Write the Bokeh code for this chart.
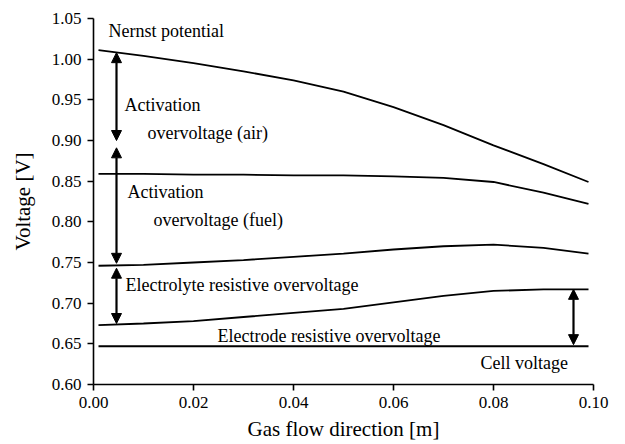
from bokeh.plotting import figure
from bokeh.models import ColumnDataSource, Arrow, NormalHead, Range1d, NumeralTickFormatter
from bokeh.core.properties import value
from bokeh.embed import file_html
from bokeh.resources import INLINE

# data
x_pos = [0.001, 0.01, 0.02, 0.03, 0.04, 0.05, 0.06, 0.07, 0.08, 0.09, 0.099]
nernst = [1.011, 1.004, 0.995, 0.985, 0.974, 0.960, 0.941, 0.919, 0.894, 0.871, 0.849]
after_air = [0.859, 0.859, 0.858, 0.858, 0.857, 0.857, 0.856, 0.854, 0.849, 0.836, 0.822]
after_fuel = [0.746, 0.747, 0.750, 0.753, 0.757, 0.761, 0.766, 0.770, 0.772, 0.768, 0.761]
after_electrolyte = [0.673, 0.675, 0.678, 0.683, 0.688, 0.693, 0.701, 0.709, 0.715, 0.717, 0.717]
cell_voltage = [0.647] * len(x_pos)

# double-headed arrows: x, top, bottom
arrow_x = [0.0046, 0.0046, 0.0046, 0.096]
arrow_top = [1.008, 0.891, 0.743, 0.717]
arrow_bottom = [0.900, 0.749, 0.675, 0.649]

label_text = ["Nernst potential", "Activation", "overvoltage (air)", "Activation",
              "overvoltage (fuel)", "Electrolyte resistive overvoltage",
              "Electrode resistive overvoltage", "Cell voltage"]
label_x = [0.003, 0.0062, 0.0108, 0.0068, 0.012, 0.0064, 0.0248, 0.0774]
label_y = [1.035, 0.944, 0.909, 0.837, 0.802, 0.722, 0.660, 0.626]

x_ticks = [0.00, 0.02, 0.04, 0.06, 0.08, 0.10]
y_ticks = [0.60, 0.65, 0.70, 0.75, 0.80, 0.85, 0.90, 0.95, 1.00, 1.05]

FONT = "Liberation Serif"

p = figure(width=625, height=444, output_backend="svg", toolbar_location=None,
           x_range=Range1d(0, 0.10), y_range=Range1d(0.60, 1.05),
           min_border_left=93, min_border_right=32, min_border_top=18, min_border_bottom=60)
p.outline_line_color = None
p.xgrid.visible = False
p.ygrid.visible = False

for ys in [nernst, after_air, after_fuel, after_electrolyte, cell_voltage]:
    p.line(x_pos, ys, line_color="black", line_width=1.8)

for ax, yv1, yv2 in zip(arrow_x, arrow_top, arrow_bottom):
    p.add_layout(Arrow(x_start=ax, y_start=yv2, x_end=ax, y_end=yv1, line_width=2.2,
                       line_color="black",
                       end=NormalHead(size=10, fill_color="black", line_color="black"),
                       start=NormalHead(size=10, fill_color="black", line_color="black")))

src = ColumnDataSource(dict(x=label_x, y=label_y, t=label_text))
p.text(x="x", y="y", text="t", source=src, text_font=value(FONT), text_font_size="18px",
       text_align="left", text_baseline="middle", text_color="black")

for ax in (p.xaxis[0], p.yaxis[0]):
    ax.axis_line_width = 1.6
    ax.major_tick_line_width = 1.6
    ax.minor_tick_line_width = 1.3
    ax.major_tick_in = 0
    ax.major_tick_out = 6
    ax.minor_tick_in = 0
    ax.minor_tick_out = 4
    ax.major_label_text_font = FONT
    ax.major_label_text_font_size = "17px"
    ax.major_label_text_color = "black"
    ax.major_label_standoff = 6
    ax.axis_label_text_font = FONT
    ax.axis_label_text_font_size = "21px"
    ax.axis_label_text_font_style = "normal"
    ax.axis_label_text_color = "black"
    ax.formatter = NumeralTickFormatter(format="0.00")

p.yaxis[0].axis_label_standoff = 14
p.xaxis[0].axis_label_standoff = 6
p.xaxis.ticker = x_ticks
p.yaxis.ticker = y_ticks
p.xaxis[0].ticker.num_minor_ticks = 2
p.yaxis[0].ticker.num_minor_ticks = 2
p.xaxis.axis_label = "Gas flow direction [m]"
p.yaxis.axis_label = "Voltage [V]"

open("out.html", "w").write(file_html(p, INLINE))
